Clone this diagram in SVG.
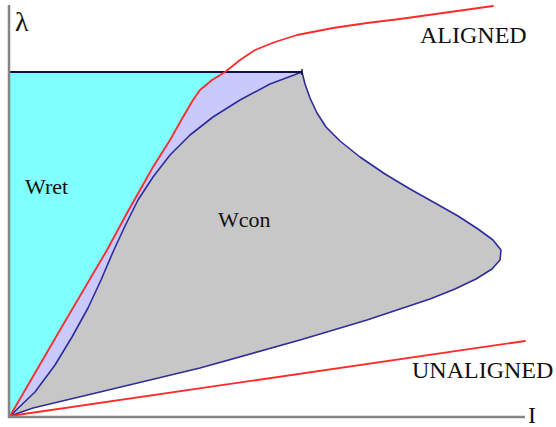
<svg xmlns="http://www.w3.org/2000/svg" width="556" height="427" viewBox="0 0 556 427">
<style>
.lbl{font-family:"Liberation Serif","Times New Roman",serif;fill:#111}
.red{fill:none;stroke:#ff2a2a;stroke-width:1.8;stroke-linejoin:round;stroke-linecap:round}
.blue{stroke:#2c2c9c;stroke-width:1.6;stroke-linejoin:round}
.axis{stroke:#858585;stroke-width:2.5}
</style>
<rect width="556" height="427" fill="#fff"/>
<g id="regions">
<polygon id="lavender" fill="#c9c9fb" points="10,72 302,72 270,84 240,100 213,117 190,135 170,155 153,177 138,200 125,226 113,252 101,280 88,308 72,337 55,365 35,392 10,416"/>
<polygon id="cyan" fill="#80ffff" points="10,72 225,72 212,80 200,90 193,100 183,117 170,140 153,167 140,190 127,213 107,250 10,416"/>
<polygon id="wcon-area" class="blue" fill="#c7c7c7" points="10,416 35,392 55,365 72,337 88,308 101,280 113,252 125,226 138,200 153,177 170,155 190,135 213,117 240,100 270,84 302,72 305,84 310,98 317,113 326,127 340,141 360,157 385,174 410,189 435,203 458,216 478,229 493,240 501,250 500,260 492,269 476,279 455,289 430,299 400,309 367,320 300,340 200,368 100,392 33,408"/>
</g>
<g id="connectors">
<line id="top-line" x1="10" y1="72" x2="302" y2="72" stroke="#101048" stroke-width="2"/>
<line x1="302" y1="69" x2="302" y2="75" stroke="#101048" stroke-width="1.5"/>
<polyline id="aligned-curve" class="red" points="10,416 60,330 107,250 127,213 140,190 153,167 170,140 183,117 193,100 200,90 212,80 225,72 240,60 255,50 275,42 297,35 333,28 367,23 400,19 493,6"/>
<line id="unaligned-curve" class="red" x1="10" y1="416" x2="525" y2="341"/>
<line id="y-axis" class="axis" x1="9" y1="5" x2="9" y2="418"/>
<line id="x-axis" class="axis" x1="8" y1="417" x2="525" y2="417"/>
</g>
<g id="labels">
<text class="lbl" x="15" y="31" font-size="28">λ</text>
<text class="lbl" x="528" y="423" font-size="24">I</text>
<text class="lbl" x="420" y="43" font-size="24">ALIGNED</text>
<text class="lbl" x="412" y="378" font-size="24">UNALIGNED</text>
<text class="lbl" x="25" y="194" font-size="22">Wret</text>
<text class="lbl" x="218" y="227" font-size="22">Wcon</text>
</g>
</svg>
